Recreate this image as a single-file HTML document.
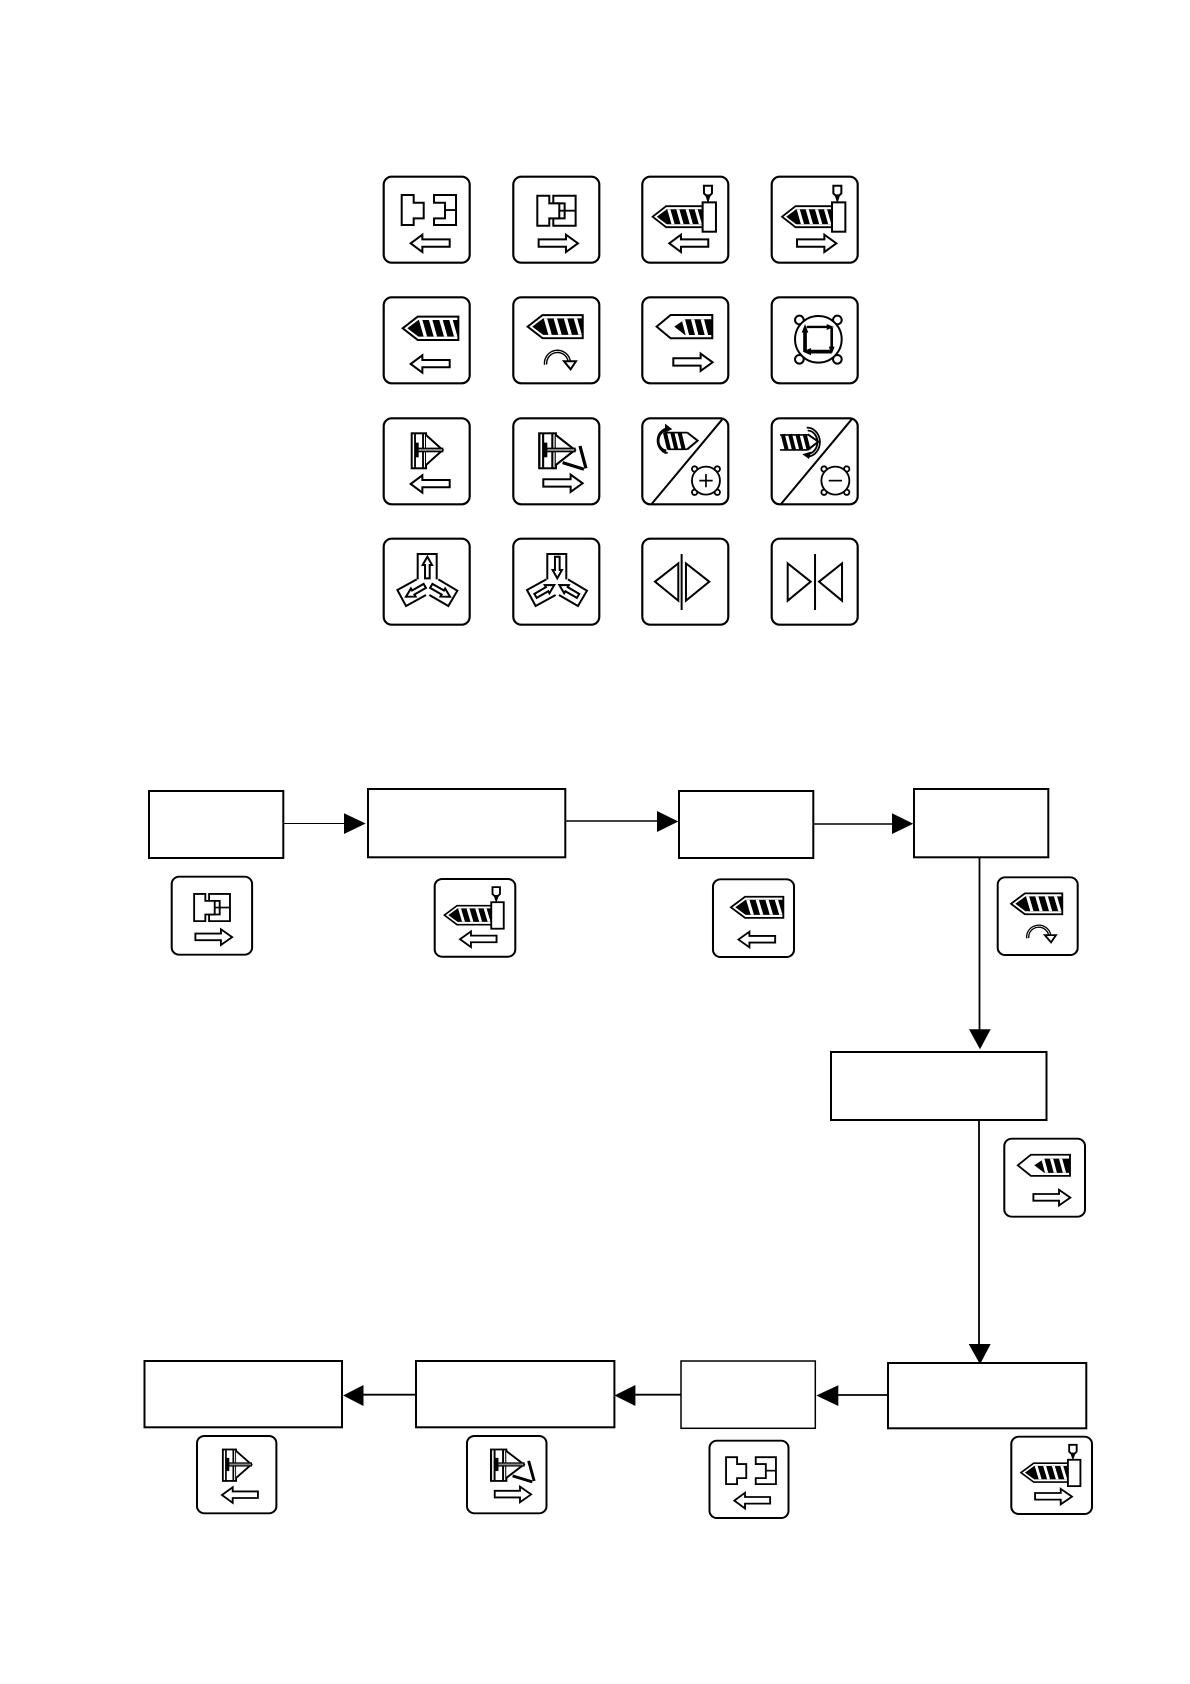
<!DOCTYPE html>
<html>
<head>
<meta charset="utf-8">
<style>
html,body{margin:0;padding:0;background:#fff;}
svg{display:block;}
</style>
</head>
<body>
<svg xmlns="http://www.w3.org/2000/svg" width="1190" height="1684" viewBox="0 0 1190 1684">
<rect width="1190" height="1684" fill="#fff"/>
<defs>
  <clipPath id="c1"><path d="M14,0L47,-25H165V25H47Z"/></clipPath>
  <clipPath id="c2"><path d="M96,88L128,66H208V113H128Z"/></clipPath>
  <rect id="f" x="0" y="0" width="258" height="258" rx="24" fill="#fff" stroke="#000" stroke-width="6.5"/>
  <path id="al" d="M81,200L116,174V188H198V210H116V226Z" fill="#fff" stroke="#000" stroke-width="6"/>
  <path id="ar" d="M76,188H158V174L194,200L158,226V210H76Z" fill="#fff" stroke="#000" stroke-width="6"/>
  <g id="scr">
    <path d="M0,0L45,-35H167V35H45Z" fill="#fff" stroke="#000" stroke-width="6"/>
    <path d="M14,0L47,-25H165V25H47Z" fill="#000"/>
    <g clip-path="url(#c1)" stroke="#fff" stroke-width="10">
      <line x1="53" y1="-28" x2="69" y2="28"/>
      <line x1="83" y1="-28" x2="99" y2="28"/>
      <line x1="114" y1="-28" x2="130" y2="28"/>
      <line x1="144" y1="-28" x2="160" y2="28"/>
    </g>
  </g>
  <g id="noz" fill="#fff" stroke="#000" stroke-width="6">
    <rect x="181" y="77" width="40" height="88"/>
    <path d="M185,27H209V50L203,56H191L185,50Z"/>
    <path d="M190,56H204L197,77Z" fill="#000" stroke-width="2"/>
  </g>
  <g id="ej">
    <rect x="84" y="45" width="43" height="105" fill="#fff" stroke="#000" stroke-width="6"/>
    <line x1="94" y1="45" x2="94" y2="150" stroke="#000" stroke-width="5.5"/>
    <line x1="118" y1="45" x2="118" y2="150" stroke="#000" stroke-width="5.5"/>
    <path d="M127,50L177,95L127,140" fill="#fff" stroke="#000" stroke-width="6"/>
    <rect x="98" y="90" width="79" height="10" fill="#888" stroke="#000" stroke-width="4"/>
    <rect x="94" y="73" width="11" height="44" fill="#000"/>
  </g>
  <g id="mc">
    <path d="M120,57H187V147H120V125H154V80H120Z" fill="#fff" stroke="#000" stroke-width="6"/>
    <path d="M72,57H108V80H138V125H108V147H72Z" fill="#fff" stroke="#000" stroke-width="6"/>
    <line x1="138" y1="102" x2="187" y2="102" stroke="#000" stroke-width="5.5"/>
  </g>
  <path id="up" d="M0,0L14,25H7V65H-7V25H-14Z" fill="#fff" stroke="#000" stroke-width="6"/>
  <g id="tb" fill="none" stroke="#000" stroke-width="6">
    <path d="M102,122V46H159V122"/>
    <path d="M99,122L41,154L67,202L127,169"/>
    <path d="M164,122L221,156L194,202L137,169"/>
  </g>
  <g id="hb" fill="#fff" stroke="#000" stroke-width="5.5">
    <circle cx="157" cy="152" r="8"/><circle cx="225" cy="152" r="8"/>
    <circle cx="157" cy="222" r="8"/><circle cx="225" cy="222" r="8"/>
    <circle cx="191" cy="187" r="42"/>
  </g>

  <!-- icons -->
  <g id="i1"><use href="#f"/>
    <path d="M54,55H90V78H120V125H90V145H54Z" fill="#fff" stroke="#000" stroke-width="6"/>
    <path d="M151,55H217V145H151V125H184V78H151Z" fill="#fff" stroke="#000" stroke-width="6"/>
    <line x1="184" y1="100" x2="217" y2="100" stroke="#000" stroke-width="5.5"/>
    <use href="#al"/></g>
  <g id="i2"><use href="#f"/><use href="#mc"/><use href="#ar"/></g>
  <g id="i3"><use href="#f"/><use href="#scr" transform="translate(31,120) scale(.9)"/><use href="#noz"/><use href="#al"/></g>
  <g id="i4"><use href="#f"/><use href="#scr" transform="translate(31,120) scale(.9)"/><use href="#noz"/><use href="#ar"/></g>
  <g id="i5"><use href="#f"/><use href="#scr" transform="translate(57,93)"/><use href="#al"/></g>
  <g id="i6"><use href="#f"/><use href="#scr" transform="translate(43,88) scale(.99)"/>
    <path d="M97,202A35.5,35.5 0 1 1 168,194" fill="none" stroke="#000" stroke-width="11"/>
    <path d="M97,202A35.5,35.5 0 1 1 168,194" fill="none" stroke="#fff" stroke-width="2.5"/>
    <path d="M152,192H188L172,216Z" fill="#fff" stroke="#000" stroke-width="6"/></g>
  <g id="i7"><use href="#f"/>
    <path d="M43,88L85,53H210V123H85Z" fill="#fff" stroke="#000" stroke-width="6"/>
    <path d="M96,88L128,66H208V113H128Z" fill="#000"/>
    <g clip-path="url(#c2)" stroke="#fff" stroke-width="10">
      <line x1="122" y1="62" x2="136" y2="116"/>
      <line x1="150" y1="62" x2="164" y2="116"/>
      <line x1="179" y1="62" x2="193" y2="116"/>
    </g>
    <use href="#ar" transform="translate(17,-5)"/></g>
  <g id="i8"><use href="#f"/>
    <g fill="#fff" stroke="#000" stroke-width="6">
      <circle cx="83" cy="68" r="13"/><circle cx="197" cy="68" r="13"/>
      <circle cx="83" cy="186" r="13"/><circle cx="197" cy="186" r="13"/>
      <circle cx="140" cy="126" r="70"/>
    </g>
    <g stroke="#000" fill="none">
      <line x1="105" y1="89" x2="170" y2="89" stroke-width="7"/>
      <line x1="180" y1="92" x2="180" y2="150" stroke-width="8"/>
      <line x1="178" y1="163" x2="115" y2="163" stroke-width="11"/>
      <line x1="100" y1="163" x2="100" y2="105" stroke-width="11"/>
    </g>
    <g fill="#000">
      <path d="M187,89L165,80V98Z"/><path d="M180,170L171,148H189Z"/>
      <path d="M93,163L118,152V174Z"/><path d="M100,80L90,106H110Z"/>
    </g></g>
  <g id="i9"><use href="#f"/><use href="#ej"/><use href="#al" transform="translate(0,-3)"/></g>
  <g id="i10"><use href="#f"/><use href="#ej" transform="translate(78,0) scale(1.15,1) translate(-84,0)"/>
    <g stroke="#000" stroke-width="9.5" fill="none">
      <line x1="200" y1="83" x2="218" y2="150"/>
      <line x1="148" y1="133" x2="212" y2="153"/>
    </g>
    <use href="#ar" transform="translate(14,-5)"/></g>
  <g id="i11"><use href="#f"/>
    <line x1="240" y1="3" x2="28" y2="257" stroke="#000" stroke-width="6"/>
    <path d="M135,43L166,67L135,93" fill="#fff" stroke="#000" stroke-width="6"/>
    <g stroke="#000" stroke-width="12" fill="none">
      <line x1="68" y1="43" x2="80" y2="93"/>
      <line x1="90" y1="43" x2="102" y2="93"/>
      <line x1="112" y1="43" x2="124" y2="93"/>
    </g>
    <line x1="66" y1="43" x2="135" y2="43" stroke="#000" stroke-width="5"/>
    <line x1="78" y1="93" x2="135" y2="93" stroke="#000" stroke-width="5"/>
    <path d="M82,30A33,37 0 1 0 76,104" fill="none" stroke="#000" stroke-width="5.5"/>
    <path d="M78,37A26,30 0 1 0 72,97" fill="none" stroke="#000" stroke-width="5.5"/>
    <path d="M68,16L90,33L68,42Z" fill="#000"/>
    <path d="M70,92L70,108L58,100Z" fill="#000"/>
    <use href="#hb"/>
    <path d="M191,167V207M171,187H211" stroke="#000" stroke-width="5"/></g>
  <g id="i12"><use href="#f"/>
    <line x1="240" y1="3" x2="28" y2="257" stroke="#000" stroke-width="6"/>
    <path d="M108,48L140,70L108,95" fill="#fff" stroke="#000" stroke-width="6"/>
    <g stroke="#000" stroke-width="12" fill="none">
      <line x1="33" y1="48" x2="45" y2="95"/>
      <line x1="55" y1="48" x2="67" y2="95"/>
      <line x1="77" y1="48" x2="89" y2="95"/>
      <line x1="99" y1="48" x2="111" y2="95"/>
    </g>
    <line x1="25" y1="50" x2="108" y2="50" stroke="#000" stroke-width="5"/>
    <line x1="25" y1="95" x2="108" y2="95" stroke="#000" stroke-width="5"/>
    <path d="M105,28A35,40 0 0 1 108,115" fill="none" stroke="#000" stroke-width="5.5"/>
    <path d="M108,37A26,32 0 0 1 110,106" fill="none" stroke="#000" stroke-width="5.5"/>
    <path d="M92,108L118,100L112,122Z" fill="#000"/>
    <use href="#hb"/>
    <path d="M171,187H211" stroke="#000" stroke-width="5"/></g>
  <g id="i13"><use href="#f"/><use href="#tb"/>
    <use href="#up" transform="translate(131,54)"/>
    <use href="#up" transform="translate(67,174) rotate(-120)"/>
    <use href="#up" transform="translate(199,174) rotate(120)"/></g>
  <g id="i14"><use href="#f"/><use href="#tb"/>
    <use href="#up" transform="translate(132,119) rotate(180)"/>
    <use href="#up" transform="translate(123,139) rotate(60)"/>
    <use href="#up" transform="translate(138,139) rotate(-60)"/></g>
  <g id="i15"><use href="#f"/>
    <line x1="118" y1="46" x2="118" y2="214" stroke="#000" stroke-width="6"/>
    <path d="M108,74L38,129L108,186Z" fill="#fff" stroke="#000" stroke-width="6"/>
    <path d="M131,74L201,129L131,186Z" fill="#fff" stroke="#000" stroke-width="6"/></g>
  <g id="i16"><use href="#f"/>
    <line x1="130" y1="46" x2="130" y2="214" stroke="#000" stroke-width="6"/>
    <path d="M48,74L117,129L48,186Z" fill="#fff" stroke="#000" stroke-width="6"/>
    <path d="M211,74L142,129L211,186Z" fill="#fff" stroke="#000" stroke-width="6"/></g>
</defs>

<!-- icon grid -->
<use href="#i1" transform="translate(383.7,176.7) scale(.3333)"/>
<use href="#i2" transform="translate(513.3,176.7) scale(.3333)"/>
<use href="#i3" transform="translate(642.3,176.7) scale(.3333)"/>
<use href="#i4" transform="translate(771.7,176.7) scale(.3333)"/>
<use href="#i5" transform="translate(383.7,297.3) scale(.3333)"/>
<use href="#i6" transform="translate(513.3,297.3) scale(.3333)"/>
<use href="#i7" transform="translate(642.3,297.3) scale(.3333)"/>
<use href="#i8" transform="translate(771.7,297.3) scale(.3333)"/>
<use href="#i9" transform="translate(383.7,418.3) scale(.3333)"/>
<use href="#i10" transform="translate(513.3,418.3) scale(.3333)"/>
<use href="#i11" transform="translate(642.3,418.3) scale(.3333)"/>
<use href="#i12" transform="translate(771.7,418.3) scale(.3333)"/>
<use href="#i13" transform="translate(383.7,538.7) scale(.3333)"/>
<use href="#i14" transform="translate(513.3,538.7) scale(.3333)"/>
<use href="#i15" transform="translate(642.3,538.7) scale(.3333)"/>
<use href="#i16" transform="translate(771.7,538.7) scale(.3333)"/>

<!-- flow connectors -->
<g stroke="#000" fill="none">
  <line x1="283" y1="823.5" x2="346" y2="823.5" stroke-width="1"/>
  <line x1="564" y1="821" x2="662" y2="821" stroke-width="1.6"/>
  <line x1="811" y1="824" x2="893" y2="824" stroke-width="1.6"/>
  <line x1="979.5" y1="857" x2="979.5" y2="1031" stroke-width="1.8"/>
  <line x1="979" y1="1120" x2="979" y2="1346" stroke-width="1.8"/>
  <line x1="888" y1="1395" x2="836" y2="1395" stroke-width="1.8"/>
  <line x1="681" y1="1394.7" x2="633" y2="1394.7" stroke-width="1.8"/>
  <line x1="416" y1="1394.7" x2="362" y2="1394.7" stroke-width="1.8"/>
</g>

<!-- flow boxes -->
<g fill="#fff" stroke="#000" stroke-width="2">
  <rect x="149" y="791" width="134.3" height="67"/>
  <rect x="368" y="789" width="197.3" height="68.3"/>
  <rect x="679" y="791" width="134.3" height="67"/>
  <rect x="914" y="789" width="134.3" height="68.3"/>
  <rect x="831" y="1052" width="215.5" height="68"/>
  <rect x="888" y="1363" width="198.3" height="65.3"/>
  <rect x="681" y="1361" width="134.3" height="67.3" stroke-width="1.5"/>
  <rect x="416" y="1361" width="198.4" height="66.3"/>
  <rect x="144.5" y="1361" width="197.5" height="66.3"/>
</g>

<!-- arrowheads -->
<g fill="#000">
  <path d="M344,813.3V834L365.7,823.5Z"/>
  <path d="M657,811V832L678.3,821.5Z"/>
  <path d="M892,813.3V834L913.3,823.7Z"/>
  <path d="M969,1029.3H990.7L980,1049.3Z"/>
  <path d="M968.7,1344H990.7L980,1364.3Z"/>
  <path d="M838.3,1385.3V1406L816.3,1395.5Z"/>
  <path d="M635.4,1385V1406L614.4,1395.5Z"/>
  <path d="M363.5,1385V1406L343,1395.5Z"/>
</g>

<!-- flow icons -->
<use href="#i2" transform="translate(171.7,876.7) scale(.3116,.3023)"/>
<use href="#i3" transform="translate(434.7,879) scale(.3124,.3012)"/>
<use href="#i5" transform="translate(713,879.3) scale(.314,.3012)"/>
<use href="#i6" transform="translate(997.7,877.3) scale(.31,.3012)"/>
<use href="#i7" transform="translate(1004.3,1138.7) scale(.3128,.3023)"/>
<use href="#i4" transform="translate(1011.3,1436.7) scale(.3128,.2996)"/>
<use href="#i1" transform="translate(709.5,1440.7) scale(.3062,.2996)"/>
<use href="#i10" transform="translate(467,1436) scale(.3081,.2996)"/>
<use href="#i9" transform="translate(197,1436) scale(.3077,.2996)"/>
</svg>
</body>
</html>
